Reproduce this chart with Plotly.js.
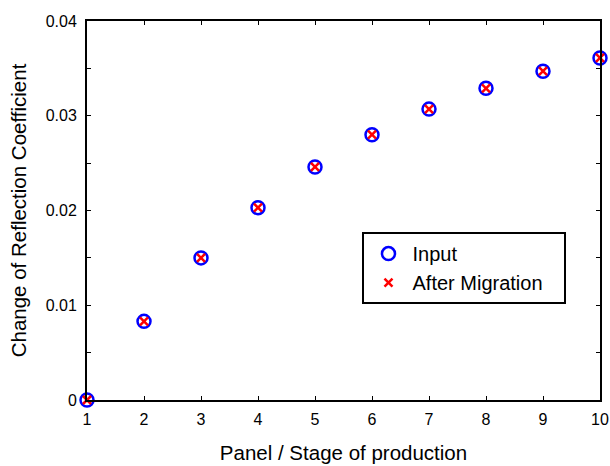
<!DOCTYPE html>
<html>
<head>
<meta charset="utf-8">
<script src="https://cdn.plot.ly/plotly-3.0.1.min.js"></script>
<style>html,body{margin:0;padding:0;background:#fff;}#chart{width:610px;height:466px;}</style>
</head>
<body>
<div id="chart"></div>
<script>
const stages = [1, 2, 3, 4, 5, 6, 7, 8, 9, 10];
const inputValues = [0, 0.0083, 0.0150, 0.0203, 0.0246, 0.0280, 0.0307, 0.0329, 0.0347, 0.0361];
const migratedValues = [0, 0.0083, 0.0150, 0.0203, 0.0246, 0.0280, 0.0307, 0.0329, 0.0347, 0.0361];
const yTickVals = [0, 0.01, 0.02, 0.03, 0.04];
const yTickText = ["0", "0.01", "0.02", "0.03", "0.04"];
const seriesNames = ["Input", "After Migration"];

const font = "Liberation Sans, Arial, sans-serif";
const pad = "\u00a0\u00a0\u00a0";
const traces = [
  {x: stages, y: inputValues, mode: "markers", name: seriesNames[0], type: "scatter", cliponaxis: false,
   marker: {symbol: "circle-open", size: 13, color: "#0000ff", line: {width: 2.5, color: "#0000ff"}}},
  {x: stages, y: migratedValues, mode: "markers", name: seriesNames[1] + pad, type: "scatter", cliponaxis: false,
   marker: {symbol: "x-thin", size: 8, color: "#ff0000", line: {width: 2.5, color: "#ff0000"}}}
];
const layout = {
  width: 610, height: 466,
  margin: {l: 87, r: 10, t: 21, b: 66, autoexpand: false},
  paper_bgcolor: "#fff", plot_bgcolor: "#fff",
  font: {family: font, size: 16, color: "#000"},
  showlegend: true,
  legend: {x: 0.537, y: 0.443, xanchor: "left", yanchor: "top", bordercolor: "#000", borderwidth: 2,
           itemwidth: 38, tracegroupgap: 0,
           bgcolor: "#fff", font: {family: font, size: 20, color: "#000"}},
  xaxis: {range: [1, 10], tickvals: stages, ticks: "inside", ticklen: 4, tickwidth: 1, tickcolor: "#000",
          showline: true, linecolor: "#000", linewidth: 2, mirror: "ticks", showgrid: false, zeroline: false,
          ticklabeloverflow: "allow", ticklabelstandoff: 4, automargin: false,
          tickfont: {family: font, size: 16}, title: {text: "Panel / Stage of production", font: {family: font, size: 20.5}, standoff: 18}},
  yaxis: {range: [0, 0.04], tickvals: yTickVals, ticktext: yTickText, ticks: "inside", ticklen: 4, tickwidth: 1, tickcolor: "#000",
          minor: {dtick: 0.005, ticks: "inside", ticklen: 4, tickcolor: "#000", showgrid: false},
          showline: true, linecolor: "#000", linewidth: 2, mirror: "ticks", showgrid: false, zeroline: false,
          ticklabeloverflow: "allow", ticklabelstandoff: 5, automargin: false,
          tickfont: {family: font, size: 16}, title: {text: "Change of Reflection Coefficient", font: {family: font, size: 20.5}, standoff: 13}}
};
Plotly.newPlot("chart", traces, layout, {displayModeBar: false, staticPlot: true});
</script>
</body>
</html>
